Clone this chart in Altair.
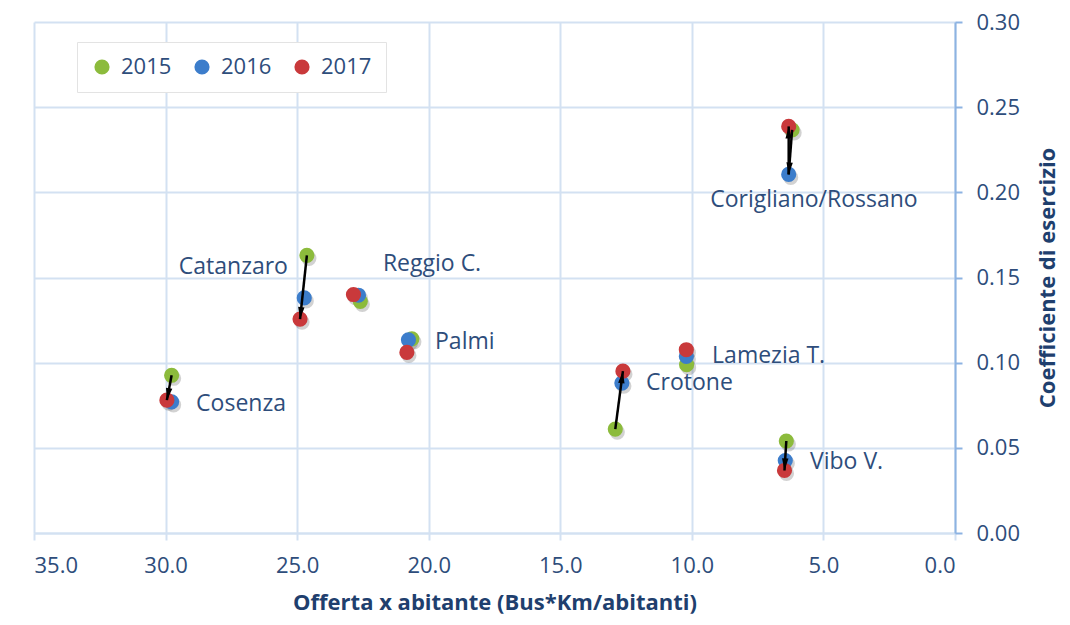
import altair as alt
import pandas as pd
import math

cities = ["Cosenza", "Catanzaro", "Reggio C.", "Palmi", "Crotone", "Lamezia T.", "Vibo V.", "Corigliano/Rossano"]
years = ["2015", "2016", "2017"]
x2015 = [29.77, 24.63, 22.60, 20.64, 12.91, 10.20, 6.41, 6.19]
y2015 = [0.0926, 0.163, 0.136, 0.114, 0.061, 0.0988, 0.054, 0.2367]
x2016 = [29.77, 24.73, 22.67, 20.77, 12.66, 10.21, 6.45, 6.32]
y2016 = [0.077, 0.138, 0.1396, 0.1134, 0.088, 0.1037, 0.0425, 0.2105]
x2017 = [29.95, 24.89, 22.86, 20.83, 12.62, 10.21, 6.48, 6.32]
y2017 = [0.078, 0.1256, 0.140, 0.106, 0.095, 0.1076, 0.0367, 0.2387]

# label anchors (data units)
label_x = [28.84, 25.35, 21.74, 19.76, 11.74, 9.23, 5.51, 5.36]
label_y = [0.0757, 0.156, 0.158, 0.112, 0.088, 0.1037, 0.0414, 0.1957]
label_align = ["left", "right", "left", "left", "left", "left", "left", "center"]

# arrows: city, from year, to year
arrow_city = ["Cosenza", "Catanzaro", "Crotone", "Vibo V.", "Corigliano/Rossano", "Corigliano/Rossano"]
arrow_from = ["2015", "2015", "2015", "2015", "2015", "2016"]
arrow_to = ["2017", "2017", "2017", "2017", "2016", "2017"]

W, H = 921, 511
XMAX, YMAX = 35.0, 0.30
colors = ["#8CBB3C", "#3C7DCB", "#C9393B"]
text_color = "#2E4D7B"
title_color = "#1F3F6E"
grid_color = "#D3E1F2"
axis_color = "#8DB3E2"
FONT = "Open Sans"

xs = {"2015": x2015, "2016": x2016, "2017": x2017}
ys = {"2015": y2015, "2016": y2016, "2017": y2017}

rows = []
for yr in years:
    for i, c in enumerate(cities):
        rows.append({"city": c, "year": yr, "x": xs[yr][i], "y": ys[yr][i], "order": years.index(yr)})
pts = pd.DataFrame(rows)

labels = pd.DataFrame({"city": cities, "x": label_x, "y": label_y, "align": label_align})

arows = []
for c, f, t in zip(arrow_city, arrow_from, arrow_to):
    i = cities.index(c)
    x1, y1 = xs[f][i], ys[f][i]
    x2, y2 = xs[t][i], ys[t][i]
    dxp = -(x2 - x1) * W / XMAX
    dyp = -(y2 - y1) * H / YMAX
    ang = math.degrees(math.atan2(dxp, -dyp)) % 360
    arows.append({"x1": x1, "y1": y1, "x2": x2, "y2": y2, "angle": ang})
arr = pd.DataFrame(arows)

xsc = alt.Scale(domain=[0, XMAX], reverse=True, nice=False)
yscale = alt.Scale(domain=[0, YMAX], nice=False)

xenc = alt.X("x:Q", scale=xsc,
             axis=alt.Axis(title="Offerta x abitante (Bus*Km/abitanti)", values=[0, 5, 10, 15, 20, 25, 30, 35],
                           format=".1f", tickSize=7, labelPadding=15, titlePadding=16))
yenc = alt.Y("y:Q", scale=yscale,
             axis=alt.Axis(title="Coefficiente di esercizio", orient="right", values=[0, 0.05, 0.1, 0.15, 0.2, 0.25, 0.3],
                           format=".2f", tickSize=7, labelPadding=14, titlePadding=18, titleAngle=270,
                           titleBaseline="top"))

shadow = alt.Chart(pts).mark_circle(size=230, opacity=0.22, color="#333333", xOffset=2, yOffset=3).encode(
    x=xenc, y=yenc, order="order:Q")

points = alt.Chart(pts).mark_circle(size=230, opacity=1).encode(
    x=xenc, y=yenc,
    color=alt.Color("year:N", scale=alt.Scale(domain=years, range=colors),
                    legend=alt.Legend(title=None, orient="none", legendX=43, legendY=20, direction="horizontal",
                                      symbolType="circle", symbolSize=230, labelFontSize=22, labelColor=text_color,
                                      labelFont=FONT, fillColor="white", strokeColor="#E3E3E3", padding=14,
                                      columnPadding=19, labelOffset=8, symbolStrokeWidth=0)),
    order="order:Q")

lines = alt.Chart(arr).mark_rule(color="black", strokeWidth=2.5).encode(
    x=alt.X("x1:Q", scale=xsc), y=alt.Y("y1:Q", scale=yscale), x2="x2:Q", y2="y2:Q")

heads = alt.Chart(arr).mark_point(filled=True, color="black", opacity=1, size=260, strokeWidth=0,
                                  shape="M0,0L0.4,1.5L-0.4,1.5Z").encode(
    x=alt.X("x2:Q", scale=xsc), y=alt.Y("y2:Q", scale=yscale),
    angle=alt.Angle("angle:Q", scale=None))

def lab(al):
    return alt.Chart(labels[labels["align"] == al]).mark_text(
        align=al, baseline="middle", fontSize=23, font=FONT, color=text_color).encode(
        x=alt.X("x:Q", scale=xsc), y=alt.Y("y:Q", scale=yscale), text="city:N")

chart = alt.layer(shadow, points, lines, heads, lab("left"), lab("right"), lab("center")).properties(
    width=W, height=H,
    autosize=alt.AutoSizeParams(type="none"),
    padding={"left": 26, "top": 14, "right": 107, "bottom": 84},
    background="white",
).configure_view(stroke=None).configure_axis(
    grid=True, gridColor=grid_color, gridWidth=2,
    domainColor=axis_color, domainWidth=2, tickColor=axis_color, tickWidth=2,
    labelFont=FONT, labelFontSize=22, labelColor=text_color,
    titleFont=FONT, titleFontSize=22, titleFontWeight="bold", titleColor=title_color,
).configure_axisX(tickColor=grid_color, domainColor=grid_color)

chart.save("out.html", embed_options={"renderer": "svg", "actions": False})
